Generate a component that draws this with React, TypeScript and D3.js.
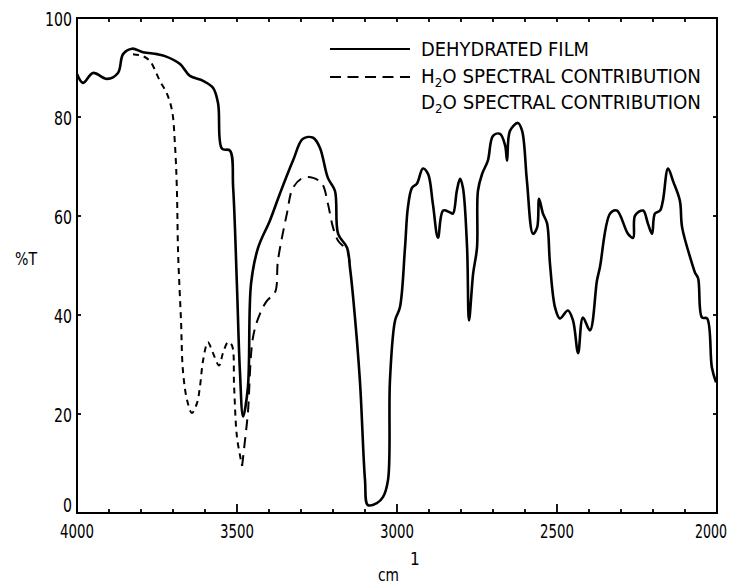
import React from "react";
import * as d3 from "d3";

// Dehydrated film (solid)
const filmWavenumber = [4000,3981,3950,3906,3872,3856,3828,3794,3750,3725,3678,3647,3606,3575,3559,3547,3522,3512,3500,3491,3481,3466,3456,3434,3397,3366,3325,3294,3262,3241,3216,3194,3184,3156,3147,3137,3116,3100,3091,3063,3044,3028,3022,3006,2991,2975,2966,2953,2938,2919,2903,2888,2872,2856,2834,2825,2813,2803,2794,2781,2775,2762,2750,2747,2734,2716,2700,2678,2662,2656,2647,2622,2609,2594,2575,2562,2556,2544,2531,2522,2506,2491,2466,2450,2434,2419,2397,2375,2366,2334,2313,2278,2262,2256,2231,2216,2203,2194,2178,2169,2153,2137,2116,2109,2078,2069,2059,2047,2031,2016,2003];
const filmT = [88.7,86.9,88.9,87.7,88.9,92.7,93.8,93.1,92.7,92.3,90.7,88.3,87.3,85.9,82.7,73.6,73.2,65.7,45.6,28.8,19.5,25.4,46.4,53.6,59.1,64.5,71.2,75.6,75.8,73.8,67.7,65.1,56.4,53.6,49.6,43.5,26.8,6.7,1.6,2.0,3.2,6.7,26.8,38.9,41.5,53.6,61.7,65.7,66.5,69.6,68.5,62.5,55.6,61.1,60.7,60.5,65.1,67.5,65.7,53.6,38.9,48.4,53.6,65.1,68.5,71.2,76.2,76.6,74.2,71.2,77.2,78.8,77.2,67.1,56.4,57.7,63.5,60.5,58.5,50.4,41.5,39.3,40.9,38.9,32.3,39.5,36.9,47.0,49.6,60.5,61.1,56.4,55.6,60.1,61.1,58.5,56.4,60.5,61.1,63.1,69.6,67.0,63.1,57.7,50.4,48.6,47.4,39.5,39.3,29.4,26.4];

// H2O spectral contribution, short-dash part
const h2oAWavenumber = [3825,3794,3772,3741,3719,3703,3694,3688,3684,3675,3669,3656,3641,3625,3616,3606,3591,3575,3556,3544,3528,3516,3509,3500,3484];
const h2oAT = [92.7,92.3,91.3,87.3,84.7,81.3,74.6,65.7,52.4,38.9,28.8,22.8,20.2,22.2,25.4,30.8,34.5,32.3,29.8,32.3,34.5,33.9,25.4,15.3,9.5];
// H2O spectral contribution, long-dash part
const h2oBWavenumber = [3484,3475,3466,3450,3428,3406,3381,3372,3344,3325,3294,3262,3234,3216,3200,3184,3156,3148];
const h2oBT = [9.5,14.7,20.2,35.5,40.3,42.9,44.6,51.0,60.5,65.7,67.7,67.7,66.5,62.5,57.7,55.0,53.0,50.5];

const xTicks = [4000, 3500, 3000, 2500, 2000];
const yTicks = [0, 20, 40, 60, 80, 100];
const legendLabels = ["DEHYDRATED FILM", "H2O SPECTRAL CONTRIBUTION", "D2O SPECTRAL CONTRIBUTION"];

const FONT = "'Liberation Sans Narrow', 'DejaVu Sans Condensed', 'Roboto Condensed', 'Liberation Sans', sans-serif";

export default function App() {
  const W = 736, H = 585;
  const left = 77, right = 717, top = 18, bottom = 513;
  const x = d3.scaleLinear().domain([4000, 2000]).range([left, right]);
  const y = d3.scaleLinear().domain([0, 100]).range([bottom, top]);
  const line = d3.line<[number, number]>()
    .x(d => x(d[0])).y(d => y(d[1]))
    .curve(d3.curveCatmullRom.alpha(0.5));
  const film = filmWavenumber.map((w, i) => [w, filmT[i]] as [number, number]);
  const h2oA = h2oAWavenumber.map((w, i) => [w, h2oAT[i]] as [number, number]);
  const h2oB = h2oBWavenumber.map((w, i) => [w, h2oBT[i]] as [number, number]);
  const minor = d3.range(2100, 4000, 100);

  return (
    <svg width={W} height={H} style={{ display: "block", position: "absolute", left: 0, top: 0, background: "#fff" }}>
      <rect x={0} y={0} width={W} height={H} fill="#fff" />
      {/* frame */}
      <rect x={left} y={top} width={right - left} height={bottom - top} fill="none" stroke="#000" strokeWidth={2} />
      {/* bottom ticks */}
      {minor.map(w => (
        <line key={"b" + w} x1={x(w)} x2={x(w)} y1={bottom} y2={bottom - (w % 500 === 0 ? 9 : 4)} stroke="#000" strokeWidth={1.8} />
      ))}
      {minor.map(w => (
        <line key={"t" + w} x1={x(w)} x2={x(w)} y1={top} y2={top + 4} stroke="#000" strokeWidth={1.8} />
      ))}
      {yTicks.slice(1, -1).map(v => (
        <g key={"y" + v}>
          <line x1={left} x2={left + 4} y1={y(v)} y2={y(v)} stroke="#000" strokeWidth={1.8} />
          <line x1={right} x2={right - 4} y1={y(v)} y2={y(v)} stroke="#000" strokeWidth={1.8} />
        </g>
      ))}
      {/* y tick labels */}
      {yTicks.map(v => {
        const s = String(v);
        const by = v === 0 ? y(v) - 1 : y(v) + 8;
        return (
          <text key={"yl" + v} x={72 - s.length * 9} y={by} fontFamily={FONT} fontSize={19}
            textLength={s.length * 9} lengthAdjust="spacingAndGlyphs" fill="#000">{s}</text>
        );
      })}
      {/* x tick labels */}
      {xTicks.map(w => (
        <text key={"xl" + w} x={x(w) - (w === 2000 ? 22 : 17)} y={538} fontFamily={FONT} fontSize={19}
          textLength={w === 2000 ? 32 : 34} lengthAdjust="spacingAndGlyphs" fill="#000">{w}</text>
      ))}
      {/* axis titles */}
      <text x={15} y={265} fontFamily={FONT} fontSize={18} textLength={22} lengthAdjust="spacingAndGlyphs">%T</text>
      <text x={378} y={581} fontFamily={FONT} fontSize={18} textLength={21} lengthAdjust="spacingAndGlyphs">cm</text>
      <text x={410} y={565} fontFamily={FONT} fontSize={17}>1</text>
      {/* curves */}
      <path d={line(film) || ""} fill="none" stroke="#000" strokeWidth={2.6} strokeLinejoin="round" />
      <path d={line(h2oA) || ""} fill="none" stroke="#000" strokeWidth={2} strokeDasharray="6,5" />
      <path d={line(h2oB) || ""} fill="none" stroke="#000" strokeWidth={2} strokeDasharray="11,7" />
      {/* legend */}
      <line x1={330} x2={410} y1={49} y2={49} stroke="#000" strokeWidth={2} />
      <line x1={330} x2={410} y1={77} y2={77} stroke="#000" strokeWidth={2} strokeDasharray="11,6.5" />
      <text x={421} y={56} fontFamily={FONT} fontSize={20} textLength={168} lengthAdjust="spacingAndGlyphs">{legendLabels[0]}</text>
      <text x={421} y={83} fontFamily={FONT} fontSize={20} textLength={280} lengthAdjust="spacingAndGlyphs">
        H<tspan fontSize={13} dy={4}>2</tspan><tspan dy={-4}>O SPECTRAL CONTRIBUTION</tspan>
      </text>
      <text x={421} y={109} fontFamily={FONT} fontSize={20} textLength={280} lengthAdjust="spacingAndGlyphs">
        D<tspan fontSize={13} dy={4}>2</tspan><tspan dy={-4}>O SPECTRAL CONTRIBUTION</tspan>
      </text>
    </svg>
  );
}
